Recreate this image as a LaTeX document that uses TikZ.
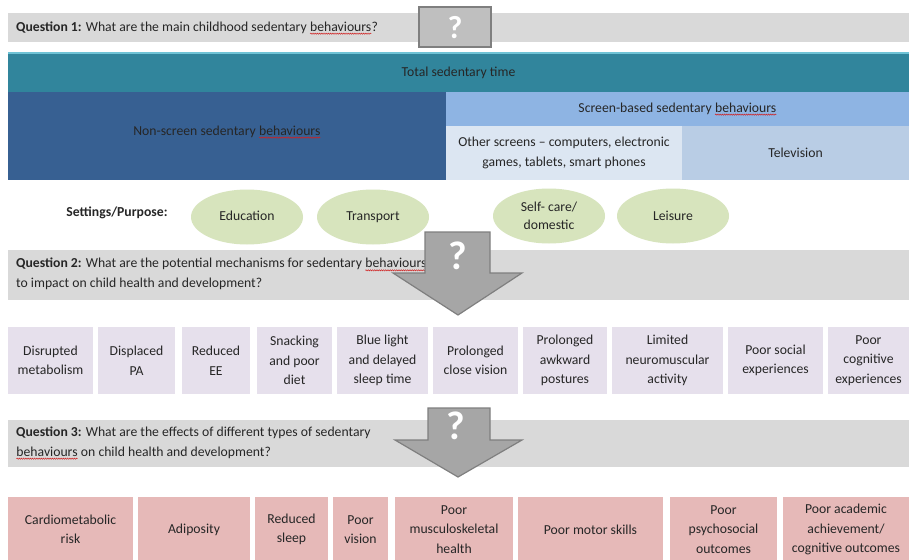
\documentclass[tikz,border=0pt]{standalone}
\usepackage{fontspec}
\setmainfont{Carlito}
\usetikzlibrary{shapes.geometric,decorations.pathmorphing}
\definecolor{qband}{HTML}{D9D9D9}
\definecolor{teal1}{HTML}{31859C}
\definecolor{tealedge}{HTML}{6FC3D6}
\definecolor{nonscr}{HTML}{376092}
\definecolor{scrbase}{HTML}{8EB4E3}
\definecolor{othscr}{HTML}{DCE6F2}
\definecolor{telev}{HTML}{B9CDE5}
\definecolor{ellip}{HTML}{D7E4BD}
\definecolor{lav}{HTML}{E6E0EC}
\definecolor{pinkb}{HTML}{E6B9B8}
\definecolor{arrfill}{HTML}{A6A6A6}
\definecolor{arredge}{HTML}{7F7F7F}
\definecolor{qboxfill}{HTML}{BFBFBF}
\definecolor{txt}{HTML}{262626}
\definecolor{spellred}{HTML}{D02020}
\newcommand\spell[1]{\tikz[baseline=(sw.base), x=1pt, y=1pt]{\node[shape=rectangle, inner sep=0pt, outer sep=0pt, minimum width=0pt, minimum height=0pt, draw=none, fill=none, anchor=base] (sw) at (0,0) {#1}; \draw[spellred, line width=0.5pt, decorate, decoration={snake, amplitude=0.6pt, segment length=2.2pt}] ([yshift=-2.6pt]sw.base west) -- ([yshift=-2.6pt]sw.base east);}}
\newcommand\bx[7]{\node[#6, minimum width={(#4-#2)*1pt}, minimum height={(#5-#3)*1pt}] (#1) at ({(#2+#4)/2},{(#3+#5)/2}) {#7};}
\begin{document}
\begin{tikzpicture}[x=1pt,y=-1pt,
  base/.style={inner sep=0pt, outer sep=0pt, text=txt, font=\fontsize{13.7}{19.5}\selectfont, align=center},
  band/.style={base, fill=qband},
  lavbox/.style={base, fill=lav},
  pinkbox/.style={base, fill=pinkb},
  oval/.style={ellipse, fill=ellip, inner sep=0pt, minimum width=112pt, minimum height=55pt, text=txt, font=\fontsize{13.7}{18}\selectfont, align=center},
  qtext/.style={anchor=west, inner sep=0pt, text=txt, font=\fontsize{13.7}{20}\selectfont, align=left},
  qmark/.style={text=white, font=\bfseries\fontsize{40}{40}\selectfont, inner sep=0pt},
  bigarrow/.style={fill=arrfill, draw=arredge, line width=1.2pt, line join=miter}
]
\useasboundingbox (0,0) rectangle (909,559);
\fill[white] (0,0) rectangle (909,559);

% Question 1
\bx{q1band}{8}{13}{909}{42}{band}{}
\node[qtext] (q1text) at (16,28) {\textbf{Question 1:} What are the main childhood sedentary \spell{behaviours}?};
\bx{q1box}{419}{7}{491}{47}{base, fill=qboxfill, draw=arredge, line width=1.5pt}{}
\node[qmark, font=\bfseries\fontsize{32}{32}\selectfont] (q1mark) at (455,28) {?};

% Sedentary time hierarchy
\bx{total}{8}{53}{909}{92}{base, fill=teal1}{Total sedentary time}
\draw[tealedge, line width=1.2pt] (total.north west) -- (total.north east);
\bx{nonscreen}{8}{92}{446}{180}{base, fill=nonscr}{}
\node[base, text=black!85] (nonscreentext) at (227,132) {Non-screen sedentary \spell{behaviours}};
\bx{screen}{446}{92}{909}{126}{base, fill=scrbase}{Screen-based sedentary \spell{behaviours}}
\bx{other}{446}{126}{682}{180}{base, fill=othscr}{Other screens -- computers, electronic\\games, tablets, smart phones}
\bx{tv}{682}{126}{909}{180}{base, fill=telev}{Television}

% Settings
\node[base, font=\bfseries\fontsize{13.7}{15}\selectfont] (settings) at (117,213) {Settings/Purpose:};
\node[oval] (education) at (247,217) {\raisebox{3pt}{Education}};
\node[oval] (transport) at (373,217) {Transport};
\node[oval] (selfcare) at (549,216) {Self- care/\\domestic};
\node[oval] (leisure) at (673,216) {Leisure};

% Question 2
\bx{q2band}{8}{250}{909}{300}{band}{}
\node[qtext] (q2text) at (16,274) {\textbf{Question 2:} What are the potential mechanisms for sedentary \spell{behaviours}\\to impact on child health and development?};
\draw[bigarrow] (425,232) -- (490,232) -- (490,273) -- (522,273) -- (458,315) -- (393,273) -- (425,273) -- cycle;
\node[qmark] (q2mark) at (458,256) {?};

% Mechanisms
\bx{m1}{8}{327}{93}{394}{lavbox}{Disrupted\\metabolism}
\bx{m2}{98}{327}{175}{394}{lavbox}{Displaced\\PA}
\bx{m3}{182}{327}{250}{394}{lavbox}{Reduced\\EE}
\bx{m4}{257}{327}{332}{394}{lavbox}{Snacking\\and poor\\diet}
\bx{m5}{337}{327}{428}{394}{lavbox}{Blue light\\and delayed\\sleep time}
\bx{m6}{433}{327}{518}{394}{lavbox}{Prolonged\\close vision}
\bx{m7}{523}{327}{607}{394}{lavbox}{Prolonged\\awkward\\postures}
\bx{m8}{612}{327}{723}{394}{lavbox}{Limited\\neuromuscular\\activity}
\bx{m9}{728}{327}{823}{394}{lavbox}{Poor social\\experiences}
\bx{m10}{828}{327}{909}{394}{lavbox}{Poor\\cognitive\\experiences}

% Question 3
\bx{q3band}{8}{420}{909}{467}{band}{}
\node[qtext] (q3text) at (16,443) {\textbf{Question 3:} What are the effects of different types of sedentary\\\spell{behaviours} on child health and development?};
\draw[bigarrow] (428,408) -- (490,408) -- (490,440) -- (522,440) -- (458,477) -- (395,440) -- (428,440) -- cycle;
\node[qmark] (q3mark) at (456,426) {?};

% Outcomes
\bx{o1}{8}{497}{133}{562}{pinkbox}{Cardiometabolic\\risk}
\bx{o2}{138}{497}{250}{562}{pinkbox}{Adiposity}
\bx{o3}{255}{497}{328}{562}{pinkbox}{Reduced\\sleep}
\bx{o4}{333}{497}{388}{562}{pinkbox}{Poor\\vision}
\bx{o5}{395}{497}{513}{562}{pinkbox}{Poor\\musculoskeletal\\health}
\bx{o6}{518}{497}{663}{562}{pinkbox}{Poor motor skills}
\bx{o7}{670}{497}{777}{562}{pinkbox}{Poor\\psychosocial\\outcomes}
\bx{o8}{783}{497}{909}{562}{pinkbox}{Poor academic\\achievement/\\cognitive outcomes}
\end{tikzpicture}
\end{document}
